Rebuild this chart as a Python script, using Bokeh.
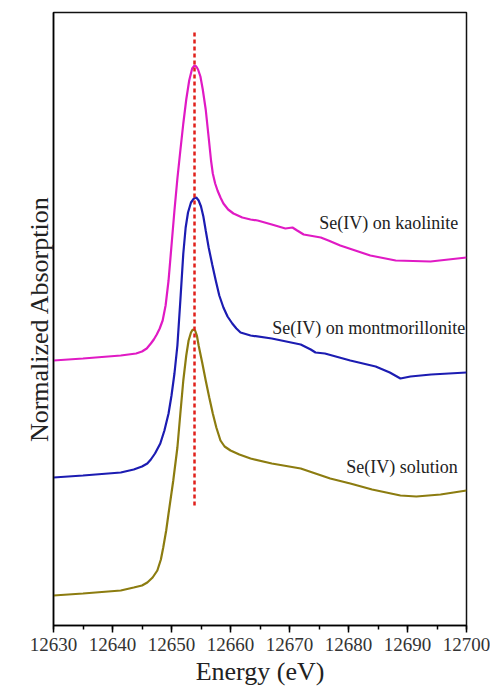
from bokeh.plotting import figure
from bokeh.models import Range1d, SingleIntervalTicker, FixedTicker, ColumnDataSource
from bokeh.core.properties import value
from bokeh.embed import file_html
from bokeh.resources import INLINE

# Energies (eV) and normalized absorption (offset, arbitrary units)
kao_e = [12630, 12635, 12641.4, 12644.0, 12645.0, 12645.8, 12646.5, 12647.0, 12647.5, 12648.0,
         12648.5, 12649.0, 12649.5, 12650.0, 12650.5, 12651.0, 12651.5, 12652.0, 12652.5, 12653.0,
         12653.5, 12653.9, 12654.2, 12654.5, 12654.9, 12655.3, 12655.8, 12656.3, 12656.7, 12657.0,
         12657.4, 12657.8, 12658.3, 12658.8, 12659.6, 12660.5, 12662, 12663.4, 12664.6, 12667,
         12669.3, 12670.5, 12671.3, 12672.4, 12675.3, 12676.6, 12678.6, 12683.7, 12688, 12693.9,
         12700]
kao_y = [2.65, 2.67, 2.70, 2.72, 2.74, 2.77, 2.82, 2.86, 2.91, 2.97,
         3.05, 3.20, 3.45, 3.80, 4.15, 4.47, 4.75, 5.02, 5.26, 5.45,
         5.57, 5.60, 5.59, 5.56, 5.49, 5.36, 5.16, 4.88, 4.65, 4.52,
         4.42, 4.35, 4.28, 4.22, 4.16, 4.12, 4.08, 4.06, 4.05, 4.01,
         3.97, 3.98, 3.95, 3.91, 3.88, 3.85, 3.80, 3.70, 3.65, 3.64,
         3.68]

mon_e = [12630, 12635, 12641.4, 12643.6, 12645.0, 12645.9, 12646.5, 12647.2, 12648.1, 12648.8,
         12649.5, 12650.0, 12650.5, 12651.0, 12651.5, 12652.0, 12652.4, 12652.8, 12653.3, 12653.8,
         12654.2, 12654.6, 12655.0, 12655.4, 12655.8, 12656.3, 12656.9, 12657.5, 12658.1, 12658.8,
         12659.5, 12660.3, 12661.0, 12661.7, 12663.4, 12667, 12671.9, 12673.6, 12674.4, 12676,
         12680.3, 12684.6, 12687, 12688.8, 12690.5, 12694, 12700]
mon_y = [1.48, 1.50, 1.53, 1.56, 1.59, 1.62, 1.66, 1.72, 1.82, 1.95,
         2.12, 2.30, 2.52, 2.80, 3.25, 3.72, 3.98, 4.13, 4.23, 4.27,
         4.28, 4.25, 4.19, 4.09, 3.95, 3.78, 3.61, 3.45, 3.30, 3.18,
         3.09, 3.02, 2.97, 2.93, 2.90, 2.87, 2.81, 2.76, 2.73, 2.72,
         2.65, 2.59, 2.53, 2.47, 2.49, 2.51, 2.53]

sol_e = [12630, 12635, 12641.4, 12643.6, 12645.0, 12645.9, 12646.8, 12647.6, 12648.2, 12648.6,
         12649.1, 12649.5, 12650.3, 12651.0, 12651.5, 12652.0, 12652.5, 12652.9, 12653.3, 12653.6,
         12654.0, 12654.3, 12654.6, 12655.2, 12655.8, 12656.4, 12657.0, 12657.6, 12658.3, 12659.0,
         12660.0, 12661.5, 12663.4, 12667, 12671.9, 12676.9, 12680.3, 12684, 12688.8, 12691.5,
         12695.6, 12700]
sol_y = [0.30, 0.32, 0.35, 0.38, 0.40, 0.43, 0.48, 0.55, 0.66, 0.78,
         0.95, 1.12, 1.45, 1.78, 2.12, 2.45, 2.70, 2.85, 2.93, 2.96,
         2.95, 2.90, 2.80, 2.63, 2.45, 2.28, 2.12, 1.98, 1.85, 1.79,
         1.75, 1.71, 1.67, 1.62, 1.57, 1.47, 1.42, 1.36, 1.30, 1.29,
         1.31, 1.35]

peak_e = 12653.9
peak_y = [1.20, 5.93]

labels = ["Se(IV) on kaolinite", "Se(IV) on montmorillonite", "Se(IV) solution"]
label_e = [12698.6, 12699.8, 12698.5]
label_y = [4.03, 2.98, 1.59]

colors = ["#e01ac4", "#1c1cb2", "#8c7c10"]

serif = "Liberation Serif"

p = figure(frame_width=413, frame_height=613, output_backend="svg", toolbar_location=None,
           x_range=Range1d(12630, 12700), y_range=Range1d(0, 6.13),
           min_border_left=53, min_border_top=12, min_border_right=24, min_border_bottom=0)
p.background_fill_color = "white"
p.grid.visible = False
p.outline_line_color = "#111111"
p.outline_line_width = 1.5

p.line(kao_e, kao_y, line_color=colors[0], line_width=2.2)
p.line(mon_e, mon_y, line_color=colors[1], line_width=2.2)
p.line(sol_e, sol_y, line_color=colors[2], line_width=2.2)
p.line([peak_e, peak_e], peak_y, line_color="#e0201b", line_width=2.5, line_dash="4 3")

src = ColumnDataSource(dict(x=label_e, y=label_y, t=labels))
p.text(x="x", y="y", text="t", source=src, text_align="right", text_baseline="middle",
       text_font=value(serif), text_font_size="18px", text_color="#222222")

p.xaxis.ticker = SingleIntervalTicker(interval=10, num_minor_ticks=2)
p.xaxis.axis_label = "Energy (eV)"
p.xaxis.axis_label_text_font = serif
p.xaxis.axis_label_text_font_style = "normal"
p.xaxis.axis_label_text_font_size = "26px"
p.xaxis.axis_label_text_color = "#222222"
p.xaxis.axis_label_standoff = 3
p.xaxis.major_label_text_font = serif
p.xaxis.major_label_text_font_size = "19px"
p.xaxis.major_label_text_color = "#333333"
p.xaxis.major_label_standoff = 5
p.xaxis.major_tick_out = 7
p.xaxis.major_tick_in = 0
p.xaxis.minor_tick_out = 4
p.xaxis.minor_tick_in = 0
p.xaxis.axis_line_width = 1.5
p.xaxis.major_tick_line_width = 1.5
p.xaxis.minor_tick_line_width = 1.5

p.yaxis.ticker = FixedTicker(ticks=[])
p.yaxis.axis_label = "Normalized Absorption"
p.yaxis.axis_label_text_font = serif
p.yaxis.axis_label_text_font_style = "normal"
p.yaxis.axis_label_text_font_size = "26px"
p.yaxis.axis_label_text_color = "#222222"
p.yaxis.axis_label_standoff = 0
p.yaxis.axis_line_width = 1.5
p.yaxis.major_tick_line_color = None
p.yaxis.minor_tick_line_color = None

open("out.html", "w").write(file_html(p, INLINE))
